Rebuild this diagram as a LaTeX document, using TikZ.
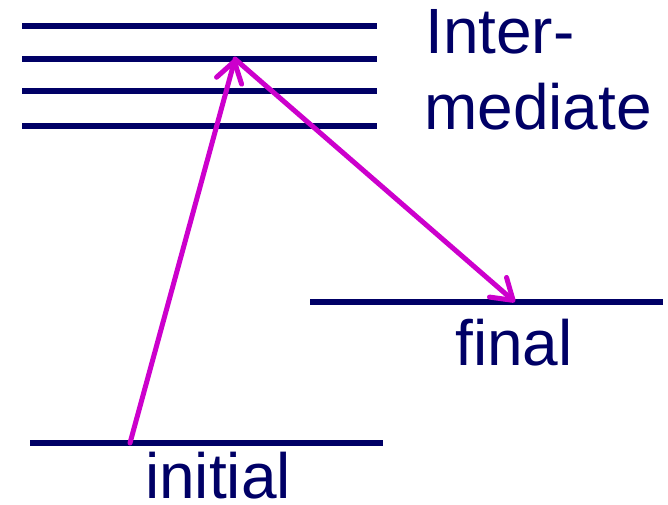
\documentclass[tikz,border=0pt]{standalone}
\usepackage{fontspec}
\setsansfont{Liberation Sans}
\usepackage{tikz}
\usetikzlibrary{arrows.meta, positioning}
\definecolor{navy}{RGB}{0,0,102}
\definecolor{purplish}{RGB}{204,0,204}
\newcommand{\levelfont}{\sffamily\fontsize{64}{76}\selectfont}

\begin{document}
\begin{tikzpicture}[
  x=1pt, y=-1pt,
  lvl/.style={draw=navy, line width=5.5pt},
  jump/.style={draw=purplish, line width=5pt, line cap=round,
               -{Straight Barb[length=20pt, width=26pt, round]}},
  lbl/.style={anchor=base west, inner sep=0pt, text depth=0pt, text=navy, font=\levelfont}
]
  \useasboundingbox (0,0) rectangle (668,505);

  % intermediate band
  \foreach \y [count=\k] in {26,59,91,126}
    \draw[lvl] (22,\y) -- (377,\y);
  \coordinate (mid) at (235,59);

  % final and initial levels
  \coordinate (f0) at (310,302);
  \coordinate (f1) at (663,302);
  \coordinate (i0) at (30,443);
  \coordinate (i1) at (383,443);
  \draw[lvl] (f0) -- (f1);
  \draw[lvl] (i0) -- (i1);
  \coordinate (up) at (130,443);
  \coordinate (down) at (515,302);

  \node[lbl] (inter) at (425,54) {Inter-};
  \node[lbl] (med) at (424,130) {mediate};
  \node[lbl] (fin) at (455,365) {final};
  \node[lbl] (ini) at (145,498) {initial};

  \draw[jump] (up) -- (mid);
  \draw[jump] (mid) -- (down);
\end{tikzpicture}
\end{document}
